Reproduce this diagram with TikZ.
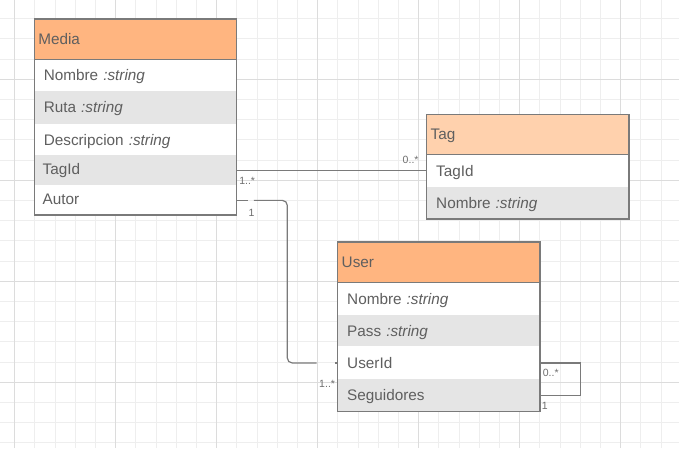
\documentclass[tikz,border=0pt]{standalone}
\usepackage{fontspec}
\setmainfont{Liberation Sans}
\definecolor{gridminor}{RGB}{238,238,238}
\definecolor{gridmajor}{RGB}{220,220,220}
\definecolor{hdrorange}{RGB}{255,181,128}
\definecolor{hdrlight}{RGB}{255,209,173}
\definecolor{rowgray}{RGB}{229,229,229}
\definecolor{txtgray}{RGB}{95,95,95}
\definecolor{bordergray}{RGB}{122,122,122}
\definecolor{lblgray}{RGB}{110,110,110}
\tikzset{
  minorline/.style={draw=gridminor,line width=1pt},
  majorline/.style={draw=gridmajor,line width=1.1pt},
  boxpart/.style={rectangle,anchor=north west,inner ysep=0pt,outer sep=0pt,align=left,
    text=txtgray,font=\fontsize{15.3}{18}\selectfont,
    text height=13pt,text depth=2.5pt,line width=0.8pt},
  hdr/.style={boxpart,fill=hdrorange,draw=hdrorange,inner xsep=4pt,text width=194.3pt},
  hdrtag/.style={hdr,fill=hdrlight,draw=hdrlight},
  rowwhite/.style={boxpart,fill=white,draw=white,inner xsep=9.5pt,text width=183.3pt},
  rowgrey/.style={rowwhite,fill=rowgray,draw=rowgray},
  tightrow/.style={inner xsep=8.3pt,text width=185.7pt,text depth=5pt},
  frame/.style={draw=bordergray,line width=1.3pt},
  conn/.style={draw=bordergray,line width=1.2pt},
  mult/.style={text=lblgray,font=\fontsize{10.5}{12}\selectfont,inner sep=0pt}
}
\begin{document}
\begin{tikzpicture}[x=1pt,y=-1pt]
\useasboundingbox (0,0) rectangle (679,448);
\fill[white] (0,0) rectangle (679,448);
% grid
\foreach \i in {-1,...,33} {
  \draw[minorline] ({14.7+20.2*\i},0) -- ({14.7+20.2*\i},448);
}
\foreach \j in {0,...,22} {
  \draw[minorline] (0,{-1.5+20.2*\j}) -- (679,{-1.5+20.2*\j});
}
\foreach \i in {0,...,6} {
  \draw[majorline] ({14.7+101*\i},0) -- ({14.7+101*\i},448);
}
\foreach \j in {1,...,4} {
  \draw[majorline] (0,{-21.7+101*\j}) -- (679,{-21.7+101*\j});
}
% Media
\node[hdr,minimum height=40.3pt] (mH) at (34.3,19) {Media};
\node[rowwhite,minimum height=31.7pt] (m1) at (mH.south west) {Nombre \textit{:string}};
\node[rowgrey,minimum height=33pt] (m2) at (m1.south west) {Ruta \textit{:string}};
\node[rowwhite,minimum height=31.7pt] (m3) at (m2.south west) {Descripcion \textit{:string}};
\node[rowgrey,tightrow,minimum height=30pt] (mTagId) at (m3.south west) {TagId};
\node[rowwhite,tightrow,minimum height=29.3pt] (mAutor) at (mTagId.south west) {Autor};
\draw[frame] (mH.north west) rectangle (mAutor.south east);
\draw[frame] (mH.south west) -- (mH.south east);
% Tag
\node[hdrtag,minimum height=40pt] (tH) at (426.7,114.7) {Tag};
\node[rowwhite,minimum height=32.6pt] (tTagId) at (tH.south west) {TagId};
\node[rowgrey,minimum height=31.7pt] (t2) at (tTagId.south west) {Nombre \textit{:string}};
\draw[frame] (tH.north west) rectangle (t2.south east);
\draw[frame] (tH.south west) -- (tH.south east);
% User
\node[hdr,minimum height=40.3pt] (uH) at (337.7,242) {User};
\node[rowwhite,minimum height=33pt] (u1) at (uH.south west) {Nombre \textit{:string}};
\node[rowgrey,minimum height=31.4pt] (u2) at (u1.south west) {Pass \textit{:string}};
\node[rowwhite,minimum height=32.6pt] (uUserId) at (u2.south west) {UserId};
\node[rowgrey,minimum height=32.4pt] (uSeg) at (uUserId.south west) {Seguidores};
\draw[frame] (uH.north west) rectangle (uSeg.south east);
\draw[frame] (uH.south west) -- (uH.south east);
% connector Media.TagId -- Tag.TagId
\draw[conn] (mTagId.east) -- (mTagId.east -| tTagId.west);
\node[mult,anchor=west] (l1) at ([xshift=2.5pt,yshift=-10pt]mTagId.east) {1..*};
\node[mult,anchor=east] (l2) at ([xshift=-8pt,yshift=11pt]tTagId.west) {0..*};
% connector Media.Autor -- User.UserId
\draw[conn] (mAutor.east) -- ([xshift=11.6pt]mAutor.east);
\draw[conn,rounded corners=5pt] ([xshift=17.3pt]mAutor.east) -| ([xshift=-50.4pt]uUserId.west) -- ([xshift=-21pt]uUserId.west);
\draw[conn] ([xshift=-2.7pt]uUserId.west) -- (uUserId.west);
\node[mult] (l3) at ([xshift=15pt,yshift=-13pt]mAutor.east) {1};
\node[mult,anchor=east] (l4) at ([xshift=-2.5pt,yshift=-21pt]uUserId.west) {1..*};
% self association on User
\draw[conn] (uUserId.east) -- ([xshift=40.7pt]uUserId.east) |- (uSeg.east);
\node[mult,anchor=west] (l5) at ([xshift=2.7pt,yshift=-9.5pt]uUserId.east) {0..*};
\node[mult,anchor=west] (l6) at ([xshift=1.7pt,yshift=-10pt]uSeg.east) {1};
\end{tikzpicture}
\end{document}
